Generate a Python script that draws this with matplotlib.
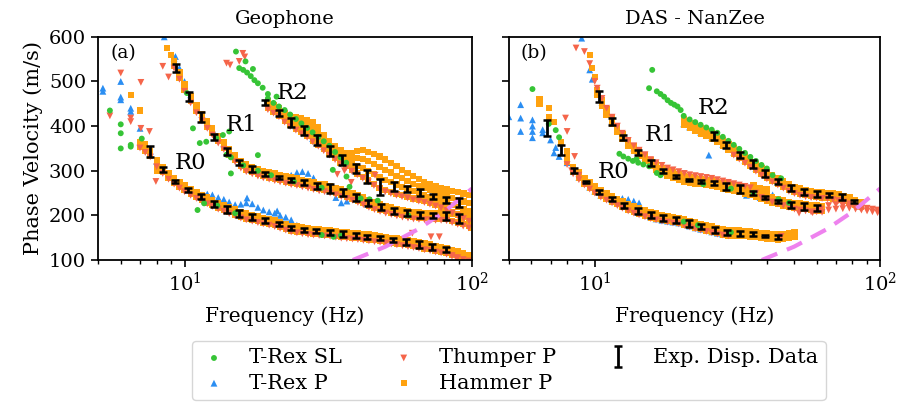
import matplotlib.pyplot as plt
from matplotlib.ticker import NullFormatter

plt.rcParams['font.family'] = ['DejaVu Serif']
plt.rcParams['font.size'] = 14

# --- experimental dispersion data (frequency Hz, velocity m/s, error) ---
geo_r0_f = [7.6, 8.4, 9.3, 10.3, 11.4, 12.65, 14.1, 15.5, 17.2, 19.1, 21.3, 23.5, 26.0, 28.7,
            32.0, 35.6, 39.4, 43.2, 48.0, 53.0, 59.0, 65.5, 72.8, 81.0]
geo_r0_v = [343, 303, 276, 257, 242, 226, 214, 204, 196, 189, 181, 172, 167, 165,
            162, 158, 155, 152, 149, 145, 140, 135, 129, 124]
geo_r0_e = [12, 5, 4, 5, 6, 7, 8, 7, 6, 6, 5, 4, 4, 5, 6, 6, 5, 5, 4, 4, 6, 7, 7, 5]

geo_r1_f = [9.36, 10.4, 11.4, 12.7, 14.1, 15.5, 17.2, 19.1, 21.3, 23.5, 26.0, 29.0, 32.0, 35.6,
            39.6, 43.5, 48.4, 53.4, 59.3, 65.7, 73.0, 81.0, 90.0]
geo_r1_v = [530, 466, 420, 376, 343, 318, 304, 293, 285, 279, 273, 266, 261, 251,
            240, 228, 218, 210, 205, 201, 200, 199, 193]
geo_r1_e = [9, 10, 11, 7, 7, 6, 6, 5, 4, 4, 6, 6, 10, 8, 7, 7, 7, 6, 6, 6, 6, 9, 11]

geo_r2_f = [19.1, 21.3, 23.5, 26.0, 29.0, 32.0, 35.4, 39.4, 43.2, 48.0, 53.4, 59.3, 66.0, 73.0,
            81.0, 90.0]
geo_r2_v = [453, 430, 409, 390, 369, 344, 324, 306, 287, 264, 264, 259, 251, 242, 235, 229]
geo_r2_e = [6, 7, 10, 11, 12, 12, 12, 10, 14, 18, 10, 6, 7, 6, 7, 10]

das_r0_f = [6.83, 7.6, 8.47, 9.3, 10.35, 11.5, 12.7, 14.2, 15.7, 17.3, 19.3, 21.4, 23.6, 26.3,
            29.0, 32.4, 35.8, 39.6, 44.0]
das_r0_v = [395, 347, 300, 274, 252, 237, 222, 210, 201, 194, 190, 182, 175, 167,
            161, 160, 158, 154, 152]
das_r0_e = [18, 11, 6, 2, 4, 4, 5, 6, 7, 7, 6, 7, 6, 6, 6, 6, 5, 3, 4]

das_r1_f = [10.35, 11.5, 12.6, 14.2, 15.7, 17.3, 19.3, 21.4, 23.6, 26.1, 28.9, 32.2, 35.8, 39.4,
            43.8, 48.7, 54.0, 60.0]
das_r1_v = [466, 410, 374, 341, 317, 300, 287, 279, 276, 272, 264, 259, 250, 240,
            231, 223, 220, 217]
das_r1_e = [12, 8, 5, 6, 6, 5, 4, 3, 3, 4, 8, 8, 5, 4, 4, 6, 7, 7]

das_r2_f = [26.1, 28.9, 32.4, 35.8, 39.6, 44.0, 48.7, 54.0, 60.0, 66.2, 73.3, 81.0]
das_r2_v = [378, 358, 336, 315, 294, 276, 261, 253, 248, 246, 241, 231]
das_r2_e = [8, 6, 7, 9, 8, 6, 7, 7, 6, 5, 6, 3]

# resolution limit (dashed)
lim_f = [38.5, 50, 65, 80, 100]
lim_v = [100, 130, 169, 208, 260]

# --- picked dispersion curves, read as rows along each mode ---
# Geophone
geo_f0 = [7.0, 7.3, 7.6, 8.0, 8.4, 8.8, 9.2, 9.6, 10.0, 10.5, 11.0, 11.5, 12.0, 12.5, 13.1,
          13.7, 14.3, 15.0, 15.7, 16.4, 17.2, 18.0, 18.8, 19.7, 20.6, 21.5, 22.5, 23.5, 24.6,
          25.7, 26.9, 28.1, 29.4, 30.7, 32.1, 33.6, 35.1, 36.7, 38.4, 40.1, 41.9, 43.8, 45.8,
          47.9, 50.1, 52.4, 54.8, 57.3, 59.9, 62.6, 65.4, 68.4, 71.5, 74.7, 78.1, 81.6, 85.3,
          89.2, 93.2, 97.4]
geo_hammer_r0_hi = [365, 355, 345, 323, 308, 295, 284, 275, 267, 259, 252, 246, 240, 234, 228,
                    223, 218, 213, 208, 204, 201, 198, 195, 192, 189, 185, 181, 177, 175, 173,
                    171, 170, 169, 168, 167, 165, 163, 162, 161, 160, 158, 157, 155, 154, 152,
                    150, 148, 146, 144, 142, 140, 137, 135, 132, 130, 127, 123, 119, 115, 110]
geo_hammer_r0_lo = [354, 344, 334, 312, 297, 284, 273, 264, 256, 248, 241, 235, 229, 223, 217,
                    212, 207, 202, 197, 193, 190, 187, 184, 181, 178, 174, 170, 166, 164, 162,
                    160, 159, 158, 157, 156, 154, 152, 151, 150, 149, 147, 146, 144, 143, 141,
                    139, 137, 135, 133, 131, 129, 126, 124, 121, 119, 116, 112, 108, 104, 99]
geo_thumper_r0 = [351, 341, 331, 309, 294, 281, 270, 261, 253, 245, 238, 232, 226, 220, 214,
                  209, 204, 199, 194, 190, 187, 184, 181, 178, 175, 171, 167, 163, 161, 159,
                  157, 156, 155, 154, 153, 151, 149, 148, 147, 146, 144, 143, 141, 140, 138,
                  136, 134, 132, 130, 128, 126, 123, 121, 118, 116, 113, 109, 105, 101, 98]
geo_trex_p_r0 = [363, 353, 343, 321, 306, 293, 282, 273, 265, 257, 250, 246, 248, 246, 240,
                 236, 230, 224, 225, 228, 226, 218, 212, 208, 205, 200, 196, 190, 178, 172,
                 170, 168, 167, 166, 165, 163, 161]

geo_f1 = [9.2, 9.6, 10.0, 10.5, 11.0, 11.5, 12.0, 12.5, 13.1, 13.7, 14.3, 15.0, 15.7, 16.4,
          17.2, 18.0, 18.8, 19.7, 20.6, 21.5, 22.5, 23.5, 24.6, 25.7, 26.9, 28.1, 29.4, 30.7,
          32.1, 33.6, 35.1, 36.7, 38.4, 40.1, 41.9, 43.8, 45.8, 47.9, 50.1, 52.4, 54.8, 57.3,
          59.9, 62.6, 65.4, 68.4, 71.5, 74.7, 78.1, 81.6, 85.3, 89.2, 93.2, 97.4]
geo_hammer_r1_hi = [546, 521, 494, 468, 446, 428, 411, 396, 378, 364, 348, 336, 322, 314, 309,
                    304, 300, 297, 294, 291, 288, 285, 283, 280, 277, 274, 271, 269, 266, 262,
                    258, 254, 250, 245, 240, 234, 229, 225, 221, 218, 215, 212, 210, 208, 207,
                    206, 206, 205, 205, 205, 204, 202, 200, 198]
geo_hammer_r1_lo = [534, 509, 482, 456, 434, 416, 399, 384, 366, 352, 336, 324, 310, 302, 297,
                    292, 288, 285, 282, 279, 276, 273, 271, 268, 265, 262, 259, 257, 254, 250,
                    246, 242, 238, 233, 228, 222, 217, 213, 209, 206, 203, 200, 198, 196, 195,
                    194, 194, 193, 193, 192, 188, 184, 180, 176]
geo_thumper_r1 = [530, 505, 478, 452, 430, 412, 395, 380, 362, 348, 332, 320, 306, 298, 293,
                  288, 284, 281, 278, 275, 272, 269, 267, 264, 261, 258, 255, 253, 250, 246,
                  242, 238, 234, 229, 224, 218, 213, 209, 205, 202, 199, 196, 194, 192, 191,
                  190, 190, 189, 189, 188, 184, 180, 176, 172]
geo_trex_p_r1 = [552, 530, 500, 470, 446, 426, 408, 392, 375, 360, 345, 332, 318, 310, 305,
                 300, 296, 293, 290, 287, 285, 290, 296, 298, 294, 284, 270, 265, 262, 240,
                 228, 232, 246, 245, 240, 232, 226]

geo_f2 = [19.5, 20.4, 21.3, 22.3, 23.3, 24.4, 25.5, 26.7, 27.9, 29.2, 30.5, 31.9, 33.4, 34.9,
          36.5, 38.2, 39.9, 41.7, 43.6, 45.6, 47.7, 49.9, 52.2, 54.6, 57.1, 59.7, 62.4, 65.3,
          68.3, 71.4, 74.7, 78.1, 81.7, 85.4, 89.3, 93.4, 97.7]
geo_hammer_r2_a = [455, 448, 440, 430, 422, 420, 418, 414, 410, 398, 380, 366, 355, 346, 340,
                   340, 345, 346, 342, 337, 332, 325, 318, 310, 302, 295, 288, 281, 275, 270,
                   266, 262, 258, 255, 252, 249, 246]
geo_hammer_r2_b = [450, 443, 435, 424, 415, 411, 407, 402, 396, 385, 369, 357, 346, 337, 330,
                   327, 328, 326, 321, 315, 309, 302, 296, 289, 283, 277, 271, 266, 261, 256,
                   252, 248, 243, 239, 235, 231, 227]
geo_hammer_r2_c = [445, 437, 429, 418, 409, 403, 397, 390, 382, 371, 359, 347, 337, 327, 320,
                   315, 311, 306, 299, 292, 286, 279, 274, 269, 264, 260, 255, 250, 246, 242,
                   238, 234, 229, 224, 219, 214, 209]
geo_hammer_r2_d = [440, 432, 424, 412, 402, 394, 386, 378, 368, 358, 348, 338, 328, 318, 310,
                   302, 294, 286, 278, 270, 262, 256, 252, 248, 245, 242, 238, 235, 232, 228,
                   224, 220, 214, 208, 202, 196, 190]
geo_thumper_r2 = [437, 429, 421, 409, 399, 391, 383, 375, 365, 355, 345, 335, 325, 315, 307,
                  299, 291, 283, 275, 267, 259, 253, 249, 245, 242, 239, 235, 232, 229, 225,
                  221, 217, 211, 205, 199, 193, 187]
geo_trex_p_r2 = [452, 444, 436, 426, 412, 400, 392, 383, 372, 362, 354, 345]
geo_trex_sl_r2 = [462, 452, 444, 436, 426, 416, 406, 396, 386, 376, 366, 356, 342, 330, 318]

# scattered single picks: (frequency Hz, velocity m/s)
geo_trex_sl = [
    (5.5, 435), (6.0, 404), (6.0, 384), (6.0, 350), (6.5, 358), (6.5, 354), (7.1, 372),
    (10.2, 474), (10.7, 395), (11.3, 362), (11.9, 365), (12.9, 373), (13.6, 380), (14.3, 388),
    (14.0, 336), (14.5, 330), (14.5, 294), (18.0, 335), (11.1, 212), (11.7, 227),
    (15.1, 567), (15.5, 530), (16.0, 526), (16.5, 520), (17.0, 512), (17.5, 503), (18.0, 496),
    (18.7, 486), (19.5, 472), (20.9, 466), (16.3, 545), (17.3, 528),
    (32.8, 302), (36.6, 287), (37.5, 264), (41.0, 238), (44.0, 236), (47.0, 233),
    (16.0, 312), (18.0, 300), (20.0, 290), (24.0, 276), (30.0, 262),
    (30.0, 156), (33.0, 152), (35.0, 155), (13.0, 222), (15.0, 205), (60.0, 200),
]
geo_trex_p = [
    (5.2, 485), (5.2, 478), (6.0, 500), (6.0, 465), (6.0, 459), (6.5, 440), (6.5, 433),
    (7.0, 395), (7.1, 362), (8.5, 600), (9.3, 556), (26.5, 386), (16.5, 239), (21.0, 210),
]
geo_thumper_p = [
    (5.5, 423), (6.0, 519), (6.5, 418), (6.5, 410), (7.05, 498), (7.05, 395), (7.55, 388),
    (7.95, 276), (8.4, 534), (8.8, 510),
    (14.0, 541), (14.4, 537), (15.5, 545), (15.95, 563), (16.2, 555),
    (62.0, 160), (72.0, 152), (77.0, 152), (85.0, 110), (88.0, 105), (46.0, 290),
    (34.0, 292), (36.0, 300), (38.0, 274),
]
geo_hammer_p = [
    (6.5, 470), (7.0, 435), (7.3, 360), (8.7, 575), (9.0, 560), (8.0, 300), (98.0, 103),
    (95.0, 180), (99.0, 172), (92.0, 185),
]

# DAS - NanZee
das_f0 = [8.0, 8.4, 8.8, 9.2, 9.6, 10.0, 10.5, 11.0, 11.5, 12.0, 12.5, 13.1, 13.7, 14.3, 15.0,
          15.7, 16.4, 17.2, 18.0, 18.8, 19.7, 20.6, 21.5, 22.5, 23.5, 24.6, 25.7, 26.9, 28.1,
          29.4, 30.7, 32.1, 33.6, 35.1, 36.7, 38.4, 40.1, 41.9, 43.8, 45.8, 47.9, 50.1]
das_hammer_r0_hi = [331, 309, 296, 283, 274, 265, 256, 249, 243, 237, 231, 225, 220, 216, 211,
                    207, 204, 201, 199, 197, 195, 191, 188, 184, 181, 178, 175, 172, 169, 167,
                    166, 166, 165, 164, 163, 161, 160, 159, 158, 159, 161, 163]
das_hammer_r0_lo = [319, 297, 284, 271, 262, 253, 244, 237, 231, 225, 219, 213, 208, 204, 199,
                    195, 192, 189, 187, 185, 183, 179, 176, 172, 169, 166, 163, 160, 157, 155,
                    154, 154, 153, 152, 151, 149, 148, 147, 146, 147, 149, 151]
das_thumper_r0 = [314, 293, 280, 268, 259, 250, 241, 234, 228, 222, 216, 210, 205, 201, 197,
                  193, 190, 187, 185, 183, 181, 177, 174, 170, 167, 164, 161, 158, 156, 154]
das_trex_p_r0 = [318, 298, 285, 272, 263, 254, 245, 238, 232, 228, 238, 236, 232, 228, 210,
                 196, 192, 189, 187, 185, 183, 180, 176, 172, 169, 166, 163, 160, 157, 155]

das_f1 = [10.2, 10.6, 11.0, 11.5, 12.0, 12.5, 13.1, 13.7, 14.3, 15.0, 15.7, 16.4, 17.2, 18.0,
          18.8, 19.7, 20.6, 21.5, 22.5, 23.5, 24.6, 25.7, 26.9, 28.1, 29.4, 30.7, 32.1, 33.6,
          35.1, 36.7, 38.4, 40.1, 41.9, 43.8, 45.8, 47.9, 50.1, 52.4, 54.8, 57.3, 59.9, 62.6]
das_hammer_r1_hi = [481, 458, 438, 418, 398, 383, 368, 356, 346, 334, 323, 314, 307, 301, 296,
                    292, 288, 285, 283, 282, 280, 278, 275, 272, 269, 267, 265, 261, 257, 254,
                    249, 245, 241, 237, 234, 230, 228, 227, 226, 224, 223, 221]
das_hammer_r1_lo = [469, 446, 426, 406, 386, 371, 356, 344, 334, 322, 311, 302, 295, 289, 284,
                    280, 276, 273, 271, 270, 268, 266, 263, 260, 257, 255, 253, 249, 245, 242,
                    237, 233, 229, 225, 222, 218, 216, 215, 214, 212, 211, 209]
das_thumper_r1 = [485, 462, 440, 420, 400, 384, 368, 356, 346, 336, 325, 318, 312, 306, 302,
                  298, 294, 291, 289, 287, 285, 283, 280, 277, 274, 271, 268, 265, 262, 250,
                  240, 235, 230, 226, 222, 218, 214, 212, 210, 208, 208, 207]
das_trex_p_r1 = [476, 453, 433, 413, 393, 378, 363, 351, 341, 329, 318, 309, 302, 296, 291,
                 287, 283, 280, 278, 277, 275, 273, 270, 267, 264, 262, 260, 256, 252, 249]
das_thumper_hf_f = [62, 66, 70, 74, 78, 82, 86, 90, 94, 98, 66, 70, 74, 78, 82, 86, 90, 94, 98]
das_thumper_hf_v = [214, 212, 214, 215, 216, 214, 212, 210, 208, 206,
                    222, 224, 222, 220, 218, 218, 216, 214, 212]

das_f2 = [20.5, 21.5, 22.5, 23.5, 24.6, 25.7, 26.9, 28.1, 29.4, 30.7, 32.1, 33.6, 35.1, 36.7,
          38.4, 40.1, 41.9, 43.8, 45.8, 47.9, 50.1, 52.4, 54.8, 57.3, 59.9, 62.6, 65.4, 68.4,
          71.5, 74.7, 78.1, 81.6, 85.3]
das_hammer_r2_hi = [415, 407, 401, 395, 389, 384, 377, 368, 359, 350, 341, 332, 323, 314, 305,
                    297, 290, 283, 276, 269, 264, 260, 257, 255, 253, 252, 251, 249, 247, 244,
                    240, 235, 230]
das_hammer_r2_lo = [403, 395, 389, 383, 377, 372, 365, 356, 347, 338, 329, 320, 311, 302, 293,
                    285, 278, 271, 264, 257, 252, 248, 245, 243, 241, 240, 239, 237, 235, 232,
                    228, 223, 218]
das_trex_sl_r2 = [423, 415, 409, 403, 397, 392, 385, 376, 367, 358, 349, 340, 331, 322, 313, 305]
das_trex_p_r2 = [405, 398, 392, 386, 380, 375, 368, 359, 350, 341, 332, 323, 314, 305]
das_thumper_r2_f = [30.7, 32.1, 33.6, 35.1, 36.7, 38.4, 40.1, 41.9, 43.8, 45.8, 47.9, 50.1,
                    52.4, 54.8, 57.3, 59.9, 62.6, 65.4, 68.4, 71.5, 74.7, 78.1, 81.6, 85.3]
das_thumper_r2 = [335, 326, 317, 308, 299, 290, 282, 275, 268, 261, 254, 249, 245, 242, 240,
                  239, 238, 237, 235, 233, 230, 226, 221, 216]

das_trex_sl = [
    (6.05, 483), (7.3, 391), (6.9, 405), (7.5, 375),
    (15.9, 526), (15.5, 485), (16.5, 478), (17.0, 472), (17.5, 466), (18.0, 458), (18.5, 452),
    (19.0, 448), (19.5, 444), (20.0, 436),
    (12.2, 338), (12.6, 332), (13.1, 327), (13.6, 322), (14.2, 318), (14.8, 314), (15.5, 310),
    (14.0, 326), (16.5, 295), (17.0, 290), (24.0, 270), (30.0, 260), (36.0, 250), (44.0, 236),
    (48.0, 228), (20.5, 186), (23.0, 178), (30.0, 162), (42.0, 290), (45.0, 283),
]
das_trex_p = [
    (5.0, 421), (5.5, 448), (5.5, 418), (5.5, 388), (6.05, 414), (6.05, 400), (6.05, 388),
    (6.05, 374), (6.57, 392), (6.57, 385), (7.0, 369), (7.3, 352), (7.5, 332), (7.2, 340),
    (9.0, 597), (9.6, 526), (9.8, 505), (25.1, 335), (34.0, 245), (38.0, 240), (42.0, 246),
]
das_thumper_p = [
    (7.9, 418), (8.0, 388), (8.5, 332), (8.6, 575), (9.2, 567), (9.6, 540), (10.0, 500),
    (8.3, 300), (8.8, 290), (45.0, 153), (52.0, 205), (58.0, 206),
]
das_hammer_p = [
    (6.4, 460), (6.4, 450), (6.9, 420), (6.9, 440), (7.2, 410), (7.6, 365), (8.0, 345),
    (9.6, 560), (9.8, 530), (10.0, 510), (36.0, 268), (38.0, 262), (40.0, 258),
]

geo_picks = [
    geo_trex_sl + list(zip(geo_f2, geo_trex_sl_r2)),
    geo_trex_p + list(zip(geo_f0, geo_trex_p_r0)) + list(zip(geo_f1, geo_trex_p_r1))
    + list(zip(geo_f2, geo_trex_p_r2)),
    geo_thumper_p + list(zip(geo_f0, geo_thumper_r0)) + list(zip(geo_f1, geo_thumper_r1))
    + list(zip(geo_f2, geo_thumper_r2)),
    geo_hammer_p + list(zip(geo_f0, geo_hammer_r0_hi)) + list(zip(geo_f0, geo_hammer_r0_lo))
    + list(zip(geo_f1, geo_hammer_r1_hi)) + list(zip(geo_f1, geo_hammer_r1_lo))
    + list(zip(geo_f2, geo_hammer_r2_a)) + list(zip(geo_f2, geo_hammer_r2_b))
    + list(zip(geo_f2, geo_hammer_r2_c)) + list(zip(geo_f2, geo_hammer_r2_d)),
]
das_picks = [
    das_trex_sl + list(zip(das_f2, das_trex_sl_r2)),
    das_trex_p + list(zip(das_f0, das_trex_p_r0)) + list(zip(das_f1, das_trex_p_r1))
    + list(zip(das_f2, das_trex_p_r2)),
    das_thumper_p + list(zip(das_f0, das_thumper_r0)) + list(zip(das_f1, das_thumper_r1))
    + list(zip(das_thumper_hf_f, das_thumper_hf_v)) + list(zip(das_thumper_r2_f, das_thumper_r2)),
    das_hammer_p + list(zip(das_f0, das_hammer_r0_hi)) + list(zip(das_f0, das_hammer_r0_lo))
    + list(zip(das_f1, das_hammer_r1_hi)) + list(zip(das_f1, das_hammer_r1_lo))
    + list(zip(das_f2, das_hammer_r2_hi)) + list(zip(das_f2, das_hammer_r2_lo)),
]

# name, marker, colour, size, drawing order
sources = [
    ('T-Rex SL', 'o', '#36c436', 18, 1.6),
    ('T-Rex P', '^', '#2b8ef2', 24, 1.0),
    ('Thumper P', 'v', '#f5654a', 24, 1.4),
    ('Hammer P', 's', '#ffa20f', 20, 1.2),
]
panels = [
    ('Geophone', '(a)', geo_picks,
     [(geo_r0_f, geo_r0_v, geo_r0_e), (geo_r1_f, geo_r1_v, geo_r1_e), (geo_r2_f, geo_r2_v, geo_r2_e)],
     [(10.5, 317), (15.8, 403), (23.8, 474)]),
    ('DAS - NanZee', '(b)', das_picks,
     [(das_r0_f, das_r0_v, das_r0_e), (das_r1_f, das_r1_v, das_r1_e), (das_r2_f, das_r2_v, das_r2_e)],
     [(11.6, 298), (17.0, 380), (26.1, 440)]),
]

fig = plt.figure(figsize=(8.99, 4.05), dpi=100)
ax1 = fig.add_axes([0.109, 0.358, 0.416, 0.551])
ax2 = fig.add_axes([0.566, 0.358, 0.413, 0.551], sharey=ax1)

handles = []
for ax, (title, tag, picks, curves, label_pos) in zip([ax1, ax2], panels):
    for (name, mk, col, sz, zo), pts in zip(sources, picks):
        f, v = zip(*pts)
        h = ax.scatter(f, v, marker=mk, s=sz, color=col, edgecolors='none', label=name, zorder=zo)
        if ax is ax1:
            handles.append(h)
    ax.plot(lim_f, lim_v, color='violet', ls=(0, (4, 2.5)), lw=3, zorder=2)
    for f, v, e in curves:
        eb = ax.errorbar(f, v, yerr=e, fmt='none', ecolor='k', elinewidth=2,
                         capsize=3, capthick=1.8, zorder=5, label='Exp. Disp. Data')
    for (fx, vy), lab in zip(label_pos, ['R0', 'R1', 'R2']):
        ax.text(fx, vy, lab, fontsize=16.5, ha='center', va='center')
    ax.text(0.067, 0.928, tag, transform=ax.transAxes, fontsize=13.5, ha='center', va='center')
    ax.set_xscale('log')
    ax.set_xlim(5, 100)
    ax.set_ylim(100, 600)
    ax.set_title(title, fontsize=14, pad=9)
    ax.set_xlabel('Frequency (Hz)', fontsize=14.5, labelpad=8)
    ax.tick_params(labelsize=14, width=1.2, length=5)
    ax.tick_params(which='minor', width=1, length=3)
    ax.xaxis.set_minor_formatter(NullFormatter())
    for sp in ax.spines.values():
        sp.set_linewidth(1.3)
    if ax is ax1:
        handles.append(eb)

ax1.set_yticks([100, 200, 300, 400, 500, 600])
ax1.set_ylabel('Phase Velocity (m/s)', fontsize=15)
ax2.tick_params(labelleft=False)

fig.legend(handles, ['T-Rex SL', 'T-Rex P', 'Thumper P', 'Hammer P', 'Exp. Disp. Data'],
           ncol=3, loc='center', bbox_to_anchor=(0.566, 0.085), fontsize=15,
           columnspacing=2.25, handlelength=1.4, handletextpad=1.0, borderpad=0.35,
           labelspacing=0.3, markerscale=1.0, fancybox=True, edgecolor='#cccccc')

fig.savefig('out.png', dpi=100)
